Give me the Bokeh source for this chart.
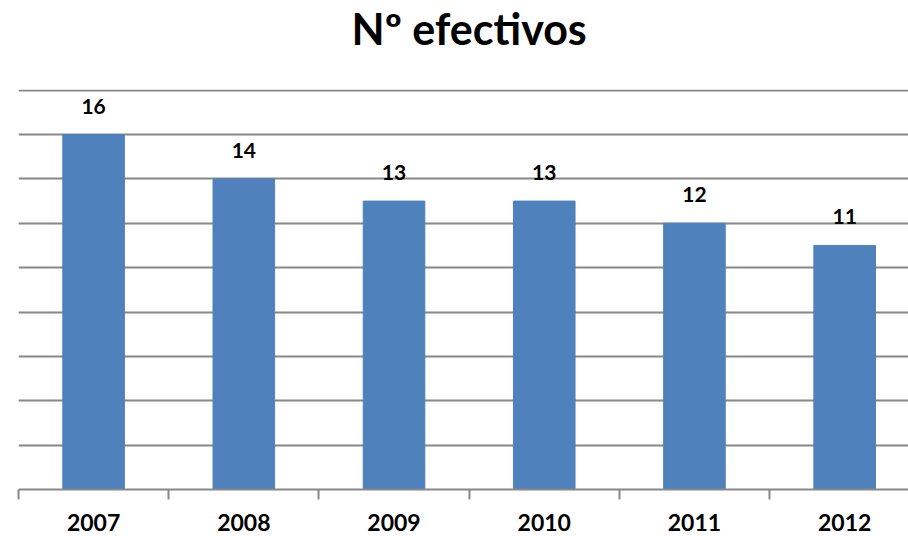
from bokeh.plotting import figure
from bokeh.layouts import column
from bokeh.models import ColumnDataSource, Range1d, FixedTicker
from bokeh.core.properties import value
from bokeh.embed import file_html
from bokeh.resources import INLINE

title_text = "Nº efectivos"
years = ["2007", "2008", "2009", "2010", "2011", "2012"]
efectivos = [16, 14, 13, 13, 12, 11]
y_ticks = [0, 2, 4, 6, 8, 10, 12, 14, 16, 18]

xs = [i + 0.5 for i in range(len(years))]
src = ColumnDataSource(dict(x=xs, top=efectivos, lbl=[str(v) for v in efectivos]))

FONT = "Lato"
GRID = "#888888"
x_rng = Range1d(0, 5.925)

# title strip
t = figure(width=908, height=89, output_backend="svg", toolbar_location=None,
           x_range=x_rng, y_range=Range1d(0, 1),
           x_axis_location=None, y_axis_location=None,
           min_border_left=18, min_border_right=0, min_border_top=0, min_border_bottom=0)
t.outline_line_color = None
t.grid.grid_line_color = None
t.background_fill_color = "white"
t.border_fill_color = "white"
t.text(x=[len(years) / 2], y=[0.68], text=[title_text], text_align="center",
       text_baseline="alphabetic", text_font=value(FONT), text_font_style="bold",
       text_font_size="43px", text_color="black")

p = figure(width=908, height=447, output_backend="svg", toolbar_location=None,
           x_range=x_rng, y_range=Range1d(0, 18.03),
           min_border_left=18, min_border_right=0, min_border_top=0,
           min_border_bottom=47)
p.outline_line_color = None
p.background_fill_color = "white"
p.border_fill_color = "white"

p.vbar(x="x", top="top", width=0.41, bottom=0, source=src, color="#4F81BD")
p.text(x="x", y="top", text="lbl", source=src, text_align="center",
       text_baseline="bottom", y_offset=-21, text_font=value(FONT),
       text_font_style="bold", text_font_size="21px", text_color="black")

p.yaxis.visible = False
p.yaxis.ticker = FixedTicker(ticks=y_ticks)
p.ygrid.grid_line_color = GRID
p.ygrid.grid_line_width = 2
p.xgrid.grid_line_color = None

xa = p.xaxis[0]
xa.ticker = FixedTicker(ticks=xs, minor_ticks=list(range(len(years) + 1)))
xa.major_label_overrides = {x: y for x, y in zip(xs, years)}
xa.major_tick_line_color = None
xa.minor_tick_in = 0
xa.minor_tick_out = 10
xa.minor_tick_line_color = GRID
xa.minor_tick_line_width = 2
xa.axis_line_color = GRID
xa.axis_line_width = 2
xa.major_label_standoff = 14
xa.major_label_text_font = FONT
xa.major_label_text_font_style = "bold"
xa.major_label_text_font_size = "23px"
xa.major_label_text_color = "black"

layout = column(t, p, spacing=0)
open("out.html", "w").write(file_html(layout, INLINE))
